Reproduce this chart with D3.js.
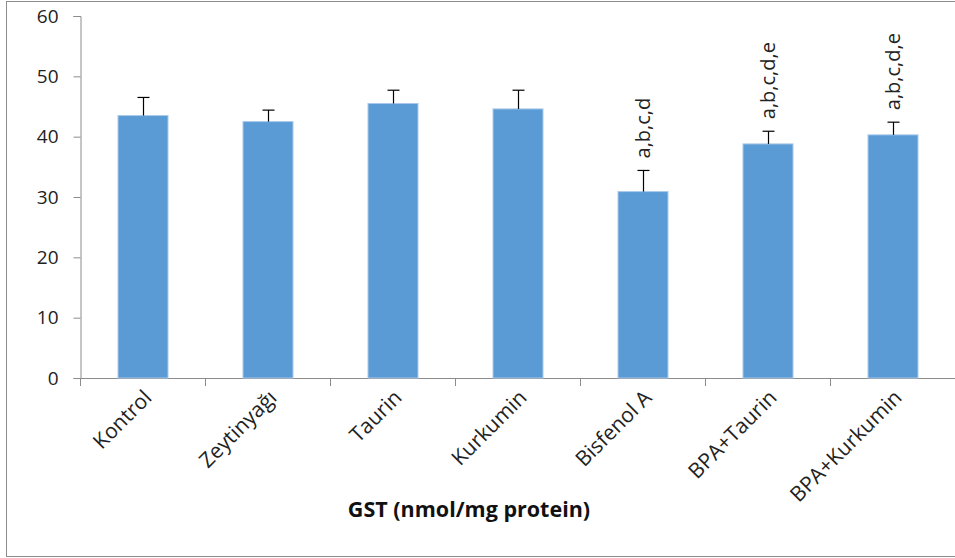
<!DOCTYPE html>
<html>
<head>
<meta charset="utf-8">
<script src="https://cdn.jsdelivr.net/npm/d3@7"></script>
<style>
  body { margin: 0; background: #fff; }
  svg { display: block; }
</style>
</head>
<body>
<div id="chart"></div>
<script>
const groups = ["Kontrol", "Zeytinyağı", "Taurin", "Kurkumin", "Bisfenol A", "BPA+Taurin", "BPA+Kurkumin"];
const means = [43.5, 42.5, 45.5, 44.6, 30.9, 38.8, 40.3];
const errors = [3.0, 1.9, 2.2, 3.1, 3.5, 2.1, 2.1];
const marks = ["", "", "", "", "a,b,c,d", "a,b,c,d,e", "a,b,c,d,e"];
const yTicks = [0, 10, 20, 30, 40, 50, 60];

const width = 955, height = 558;
const font = "'Open Sans', Lato, sans-serif";

const svg = d3.select("#chart").append("svg")
  .attr("width", width)
  .attr("height", height);

// outer frame
svg.append("rect")
  .attr("x", 6.5).attr("y", 1.5)
  .attr("width", 960).attr("height", 555)
  .attr("fill", "none")
  .attr("stroke", "#8c8c8c")
  .attr("stroke-width", 1);

const plotL = 80.5, plotR = 955.5, plotT = 16, plotB = 378;

const x = d3.scaleBand().domain(groups).range([plotL, plotR]).paddingInner(0.6).paddingOuter(0.3);
const y = d3.scaleLinear().domain([0, 60]).range([plotB, plotT]);

// y axis
const yAxis = svg.append("g")
  .attr("transform", `translate(${plotL},0)`)
  .call(d3.axisLeft(y).tickValues(yTicks).tickSize(7).tickPadding(15));
yAxis.select(".domain").attr("stroke", "#8c8c8c");
yAxis.selectAll(".tick line").attr("stroke", "#8c8c8c");
yAxis.selectAll(".tick text")
  .attr("font-family", font).attr("font-size", 19).attr("fill", "#222");

// x axis line + category ticks at band boundaries
svg.append("line")
  .attr("x1", plotL).attr("x2", plotR)
  .attr("y1", plotB + 0.5).attr("y2", plotB + 0.5)
  .attr("stroke", "#8c8c8c");
const step = x.step();
svg.append("g").selectAll("line")
  .data(d3.range(groups.length + 1))
  .join("line")
  .attr("x1", i => plotL + i * step).attr("x2", i => plotL + i * step)
  .attr("y1", plotB).attr("y2", plotB + 8)
  .attr("stroke", "#8c8c8c");

// bars
svg.append("g").selectAll("rect")
  .data(groups)
  .join("rect")
  .attr("x", d => x(d))
  .attr("y", (d, i) => y(means[i]))
  .attr("width", x.bandwidth())
  .attr("height", (d, i) => y(0) - y(means[i]))
  .attr("fill", "#5b9bd5")
  .attr("stroke", "#a9c9ea")
  .attr("stroke-width", 1);

// error bars (upper only)
const eb = svg.append("g").attr("stroke", "#000").attr("stroke-width", 1.2);
groups.forEach((g, i) => {
  const cx = Math.round(x(g) + x.bandwidth() / 2) + 0.5;
  eb.append("line")
    .attr("x1", cx).attr("x2", cx)
    .attr("y1", y(means[i])).attr("y2", y(means[i] + errors[i]));
  eb.append("line")
    .attr("x1", cx - 6).attr("x2", cx + 6)
    .attr("y1", y(means[i] + errors[i])).attr("y2", y(means[i] + errors[i]));
});

// significance letters
svg.append("g").selectAll("text")
  .data(groups)
  .join("text")
  .attr("transform", (d, i) => `translate(${x(d) + x.bandwidth() / 2 + 7},${y(means[i] + errors[i]) - 12}) rotate(-90)`)
  .attr("font-family", font).attr("font-size", 20).attr("fill", "#222")
  .text((d, i) => marks[i]);

// category labels
svg.append("g").selectAll("text")
  .data(groups)
  .join("text")
  .attr("transform", d => `translate(${x(d) + x.bandwidth() / 2 + 10},${plotB + 21}) rotate(-45)`)
  .attr("text-anchor", "end")
  .attr("font-family", font).attr("font-size", 21).attr("fill", "#222")
  .text(d => d);

// axis title
svg.append("text")
  .attr("x", 469).attr("y", 517)
  .attr("text-anchor", "middle")
  .attr("font-family", font).attr("font-size", 21.5).attr("font-weight", "bold").attr("fill", "#111")
  .text("GST (nmol/mg protein)");
</script>
</body>
</html>
